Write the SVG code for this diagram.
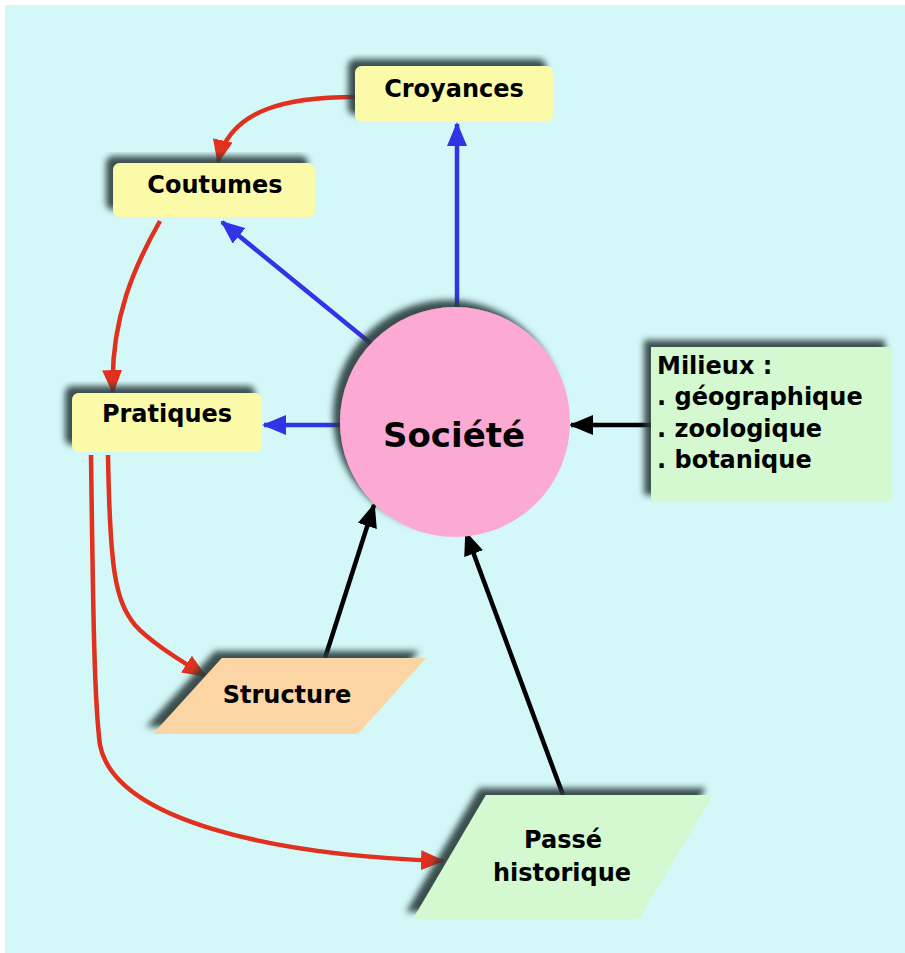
<svg xmlns="http://www.w3.org/2000/svg" width="905" height="953" viewBox="0 0 905 953">
<style>
.lbl{font-family:"DejaVu Sans","Verdana",sans-serif;font-weight:bold;font-size:24px;fill:#000;}
.ctr{text-anchor:middle;}
.yel{fill:#fafaa8;}
.red{fill:none;stroke:#e0301e;stroke-width:4.5;}
.blue{fill:none;stroke:#3333e6;stroke-width:4.5;}
.blk{fill:none;stroke:#000;stroke-width:4.5;}
</style>
<defs>
<filter id="sh" x="-20%" y="-20%" width="140%" height="140%">
<feDropShadow dx="-7" dy="-7" stdDeviation="3" flood-color="#2a3a3a" flood-opacity="0.9"/>
</filter>
<marker id="ar" markerUnits="userSpaceOnUse" markerWidth="24" markerHeight="20" refX="22" refY="10" orient="auto"><path d="M0,0 L24,10 L0,20 Z" fill="#e0301e"/></marker>
<marker id="ab" markerUnits="userSpaceOnUse" markerWidth="24" markerHeight="20" refX="22" refY="10" orient="auto"><path d="M0,0 L24,10 L0,20 Z" fill="#3333e6"/></marker>
<marker id="ak" markerUnits="userSpaceOnUse" markerWidth="24" markerHeight="20" refX="22" refY="10" orient="auto"><path d="M0,0 L24,10 L0,20 Z" fill="#000"/></marker>
</defs>
<rect x="5" y="5" width="900" height="948" fill="#d4f8f8"/>
<g id="connectors">
<path class="red" d="M355,97 C290,97 230,108 218,162" marker-end="url(#ar)"/>
<path class="red" d="M160,221 C135,265 110,320 113,392" marker-end="url(#ar)"/>
<path class="red" d="M108,455 C110,570 115,600 135,625 C150,642 180,660 205,676" marker-end="url(#ar)"/>
<path class="red" d="M91,455 C93,600 94,700 100,745 C115,820 270,855 443,861" marker-end="url(#ar)"/>
<path class="blue" d="M457,315 L457,124" marker-end="url(#ab)"/>
<path class="blue" d="M374,346 L222,222" marker-end="url(#ab)"/>
<path class="blue" d="M340,425 L264,425" marker-end="url(#ab)"/>
<path class="blk" d="M651,425 L571,425" marker-end="url(#ak)"/>
<path class="blk" d="M325,658 L374,505" marker-end="url(#ak)"/>
<path class="blk" d="M563,795 L466,533" marker-end="url(#ak)"/>
</g>
<g id="croyances">
<rect class="yel" x="355" y="66" width="198" height="56" rx="7" filter="url(#sh)"/>
<text class="lbl ctr" x="454" y="97">Croyances</text>
</g>
<g id="coutumes">
<rect class="yel" x="113" y="163" width="202" height="54" rx="7" filter="url(#sh)"/>
<text class="lbl ctr" x="215" y="193">Coutumes</text>
</g>
<g id="pratiques">
<rect class="yel" x="72" y="393" width="190" height="59" rx="7" filter="url(#sh)"/>
<text class="lbl ctr" x="167" y="422">Pratiques</text>
</g>
<g id="societe">
<circle cx="455" cy="422" r="115" fill="#fcaad4" filter="url(#sh)"/>
<text class="lbl ctr" x="454" y="447" style="font-size:34px">Société</text>
</g>
<g id="milieux">
<rect x="651" y="347" width="241" height="155" fill="#d4f8d0" filter="url(#sh)"/>
<text class="lbl" x="657" y="374">Milieux :</text>
<text class="lbl" x="657" y="405">. géographique</text>
<text class="lbl" x="657" y="437">. zoologique</text>
<text class="lbl" x="657" y="468">. botanique</text>
</g>
<g id="structure">
<polygon points="222,658 426,658 358,734 153,734" fill="#fcd5a5" filter="url(#sh)"/>
<text class="lbl ctr" x="287" y="703">Structure</text>
</g>
<g id="passe">
<polygon points="486,795 713,795 639,919 413,919" fill="#d4f8d0" filter="url(#sh)"/>
<text class="lbl ctr" x="563" y="848">Passé</text>
<text class="lbl ctr" x="562" y="881">historique</text>
</g>
</svg>
